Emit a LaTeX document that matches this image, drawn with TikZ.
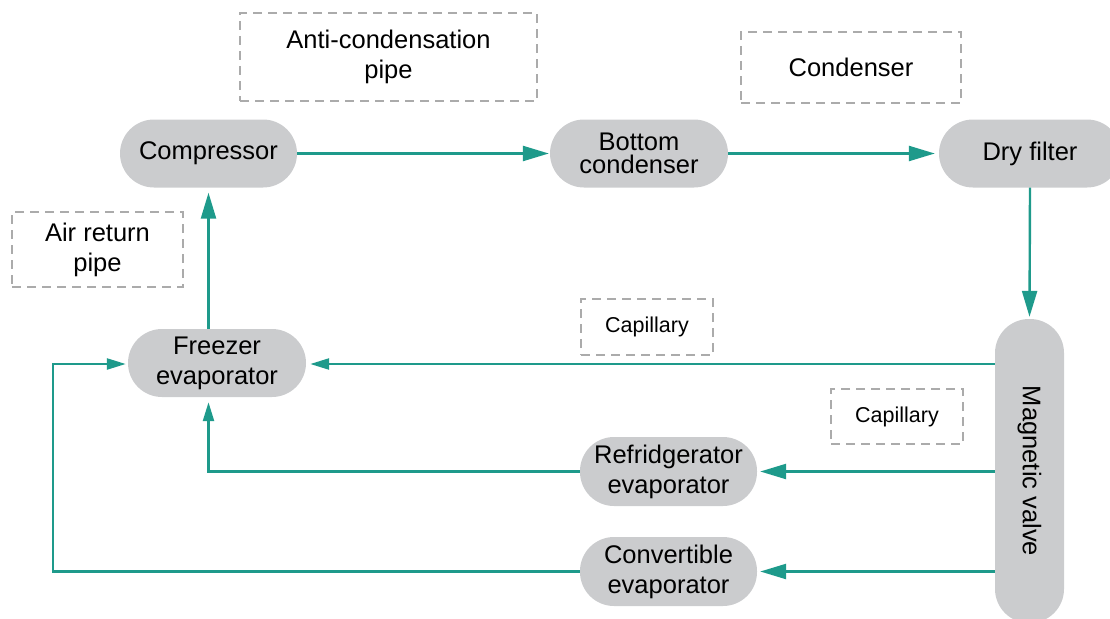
\documentclass[tikz,border=0pt]{standalone}
\usepackage{fontspec}
\setmainfont{Liberation Sans}
\usetikzlibrary{arrows.meta,calc}
\definecolor{boxgray}{HTML}{CBCCCE}
\definecolor{teal1}{HTML}{1E9A8B}
\definecolor{dashgray}{HTML}{ABABAB}
\begin{document}
\begin{tikzpicture}[x=1pt,y=-1pt,
  comp/.style={draw=none,fill=boxgray,rectangle,rounded corners=34pt,inner sep=0pt,
    align=center,font=\fontsize{25.5}{30}\selectfont,text=black},
  lbl/.style={draw=dashgray,line width=2.4pt,dash pattern=on 9pt off 6pt,rectangle,
    inner sep=0pt,align=center,font=\fontsize{25.5}{30}\selectfont},
  slbl/.style={lbl,font=\fontsize{21.5}{26}\selectfont},
  flow/.style={draw=teal1,line width=2.4pt,-{Triangle[length=26pt,width=15pt]}},
  sflow/.style={draw=teal1,line width=2.4pt,-{Triangle[length=19pt,width=11pt]}}
]
\useasboundingbox (0,0) rectangle (1110,618);
\clip (0,0) rectangle (1110,618);

% process nodes
\node[comp,minimum width=177pt,minimum height=68pt] (compr) at (208.5,153.5) {Compressor};
\node[comp,minimum width=178pt,minimum height=68pt,font=\fontsize{25.5}{23}\selectfont] (bcond) at (639,153.5) {Bottom\\condenser};
\node[comp,minimum width=182pt,minimum height=68pt] (dry) at (1030,153.5) {Dry filter};
\node[comp,minimum width=178pt,minimum height=68pt] (freez) at (217,363) {Freezer\\evaporator};
\node[comp,minimum width=177pt,minimum height=69pt] (refr) at (668.5,471.5) {Refridgerator\\evaporator};
\node[comp,minimum width=177pt,minimum height=69pt] (conv) at (668.5,571.5) {Convertible\\evaporator};
\node[comp,minimum width=69pt,minimum height=304pt] (mag) at (1029.5,471) {};
\node[rotate=-90,font=\fontsize{25.5}{30}\selectfont] (magt) at (mag.center) {Magnetic valve};

% dashed labels
\node[lbl,minimum width=297pt,minimum height=88pt] (anti) at (388.5,57) {Anti-condensation\\pipe};
\node[lbl,minimum width=220pt,minimum height=71pt] (condl) at (851,67.5) {Condenser};
\node[lbl,minimum width=171pt,minimum height=75pt] (air) at (97.5,249.5) {Air return\\pipe};
\node[slbl,minimum width=132pt,minimum height=56pt] (cap1) at (647,327) {Capillary};
\node[slbl,minimum width=132pt,minimum height=55pt] (cap2) at (897,416.5) {Capillary};

% connectors
\coordinate (lx) at (53,0);
\draw[flow,shorten >=1pt] (compr.east) -- (bcond.west);
\draw[flow,shorten >=4pt] (bcond.east) -- (dry.west);
\draw[flow,shorten >=2pt] (dry.south) -- (mag.north);
\draw[sflow,shorten >=4pt] (mag.west |- 0,364) -- (freez.east |- 0,364);
\draw[flow,shorten >=3pt] (mag.west |- refr.east) -- (refr.east);
\draw[flow,shorten >=3pt] (mag.west |- conv.east) -- (conv.east);
\draw[sflow,shorten >=5pt] (refr.west) -| (compr.south |- freez.south);
\draw[sflow,shorten >=2pt] (conv.west) -| (lx |- 0,364) -- (freez.west |- 0,364);
\draw[flow,shorten >=5pt] (compr.south |- freez.north) -- (compr.south);
\end{tikzpicture}
\end{document}
